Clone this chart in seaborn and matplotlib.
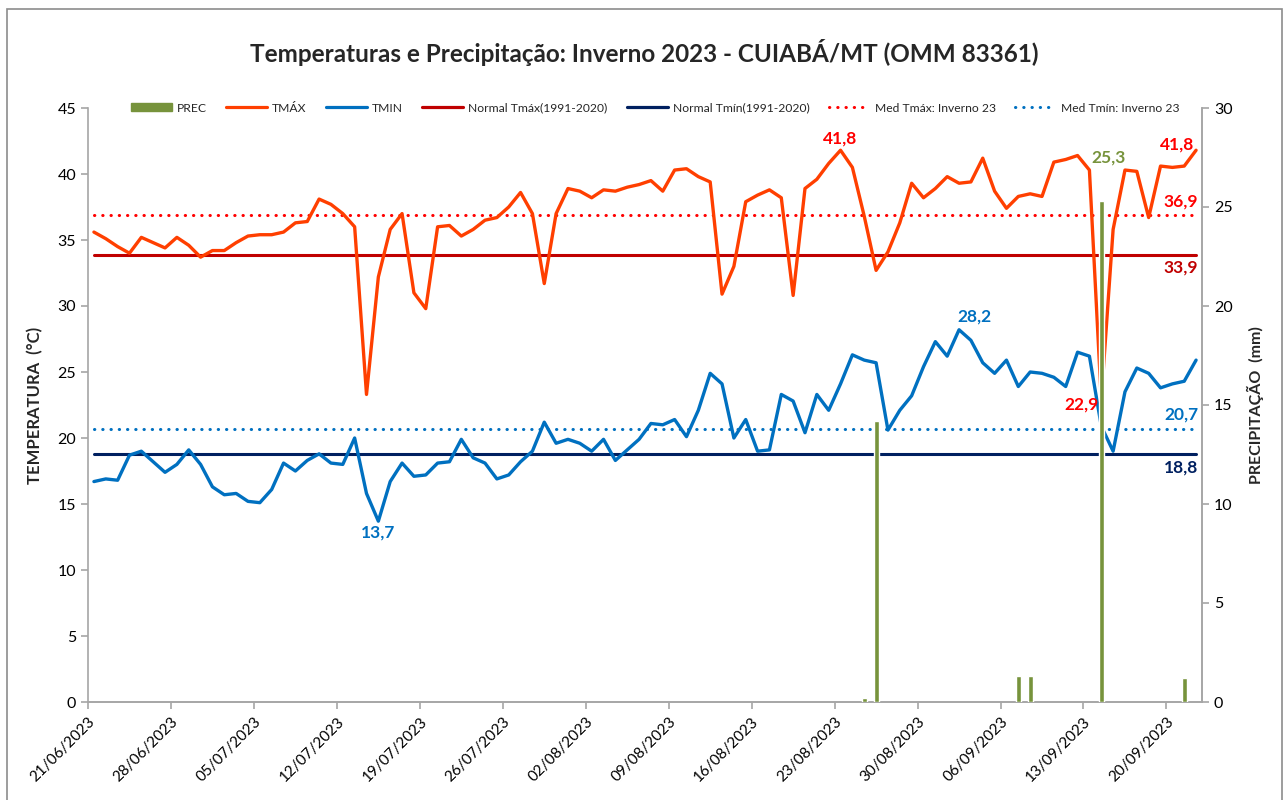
import numpy as np
import pandas as pd
import matplotlib
matplotlib.use("Agg")
import matplotlib.pyplot as plt
from matplotlib.lines import Line2D
from matplotlib.patches import Patch, Rectangle
from matplotlib.transforms import ScaledTranslation
import seaborn as sns

# daily data, winter 2023 (21/06 - 22/09)
dates = pd.date_range("2023-06-21", "2023-09-22", freq="D")

tmax = [35.6, 35.1, 34.5, 34.0, 35.2, 34.8, 34.4, 35.2, 34.6, 33.7,
        34.2, 34.2, 34.8, 35.3, 35.4, 35.4, 35.6, 36.3, 36.4, 38.1,
        37.7, 37.0, 36.0, 23.3, 32.2, 35.8, 37.0, 31.0, 29.8, 36.0,
        36.1, 35.3, 35.8, 36.5, 36.7, 37.5, 38.6, 37.0, 31.7, 37.0,
        38.9, 38.7, 38.2, 38.8, 38.7, 39.0, 39.2, 39.5, 38.7, 40.3,
        40.4, 39.8, 39.4, 30.9, 33.0, 37.9, 38.4, 38.8, 38.2, 30.8,
        38.9, 39.6, 40.8, 41.8, 40.5, 36.8, 32.7, 34.1, 36.3, 39.3,
        38.2, 38.9, 39.8, 39.3, 39.4, 41.2, 38.7, 37.4, 38.3, 38.5,
        38.3, 40.9, 41.1, 41.4, 40.3, 22.9, 35.8, 40.3, 40.2, 36.7,
        40.6, 40.5, 40.6, 41.8]

tmin = [16.7, 16.9, 16.8, 18.7, 19.0, 18.2, 17.4, 18.0, 19.1, 18.0,
        16.3, 15.7, 15.8, 15.2, 15.1, 16.1, 18.1, 17.5, 18.3, 18.8,
        18.1, 18.0, 20.0, 15.8, 13.7, 16.7, 18.1, 17.1, 17.2, 18.1,
        18.2, 19.9, 18.5, 18.1, 16.9, 17.2, 18.2, 19.0, 21.2, 19.6,
        19.9, 19.6, 19.0, 19.9, 18.3, 19.1, 19.9, 21.1, 21.0, 21.4,
        20.1, 22.1, 24.9, 24.1, 20.0, 21.4, 19.0, 19.1, 23.3, 22.8,
        20.4, 23.3, 22.1, 24.1, 26.3, 25.9, 25.7, 20.6, 22.1, 23.2,
        25.4, 27.3, 26.2, 28.2, 27.4, 25.7, 24.9, 25.9, 23.9, 25.0,
        24.9, 24.6, 23.9, 26.5, 26.2, 20.9, 19.0, 23.5, 25.3, 24.9,
        23.8, 24.1, 24.3, 25.9]

prec_dates = ["2023-08-25", "2023-08-26", "2023-09-07", "2023-09-08",
              "2023-09-14", "2023-09-21"]
prec_mm = [0.2, 14.2, 1.3, 1.3, 25.3, 1.2]

normal_tmax = 33.9
normal_tmin = 18.8
med_tmax = 36.9
med_tmin = 20.7

C_TMAX = "#FF3F00"
C_TMIN = "#0070C0"
C_NTMAX = "#C00000"
C_NTMIN = "#002060"
C_MTMAX = "#FF0000"
C_PREC = "#77933C"
GRAY = "#A6A6A6"

df = pd.DataFrame({"data": dates, "tmax": tmax, "tmin": tmin})
df["dia"] = (df["data"] - dates[0]).dt.days
prec = pd.DataFrame({"data": pd.to_datetime(prec_dates), "mm": prec_mm})
prec["dia"] = (prec["data"] - dates[0]).dt.days

sns.set_style("white")
plt.rcParams["font.family"] = ["Lato", "DejaVu Sans"]

fig = plt.figure(figsize=(12.88, 8), dpi=100)
ax = fig.add_axes([88 / 1288, 98 / 800, 1114 / 1288, 594 / 800])
ax2 = ax.twinx()

first, last = df["dia"].iloc[0], df["dia"].iloc[-1]
dots = (0, (0.1, 2.6))

# reference lines
ax.plot([first, last], [normal_tmax, normal_tmax], color=C_NTMAX, lw=2.2)
ax.plot([first, last], [normal_tmin, normal_tmin], color=C_NTMIN, lw=2.2)
ax.plot([first, last], [med_tmax, med_tmax], color=C_MTMAX, lw=2.2,
        linestyle=dots, dash_capstyle="round")
ax.plot([first, last], [med_tmin, med_tmin], color=C_TMIN, lw=2.2,
        linestyle=dots, dash_capstyle="round")

sns.lineplot(data=df, x="dia", y="tmax", ax=ax, color=C_TMAX, lw=2.4)
sns.lineplot(data=df, x="dia", y="tmin", ax=ax, color=C_TMIN, lw=2.4)

ax2.bar(prec["dia"], prec["mm"], width=0.42, color=C_PREC, zorder=3)

ax.set_xlim(-0.5, 93.5)
ax.set_ylim(0, 45)
ax2.set_ylim(0, 30)
ax.set_yticks(np.arange(0, 46, 5))
ax2.set_yticks(np.arange(0, 31, 5))

tick_pos = np.arange(0, len(dates), 7) - 0.5
tick_lab = [d.strftime("%d/%m/%Y") for d in dates[::7]]
ax.set_xticks(tick_pos)
ax.set_xticklabels(tick_lab, rotation=45, ha="right", rotation_mode="anchor")
shift = ScaledTranslation(0.05, -0.04, fig.dpi_scale_trans)
for t in ax.get_xticklabels():
    t.set_transform(t.get_transform() + shift)

for a in (ax, ax2):
    a.spines["top"].set_visible(False)
    for s in ("left", "right", "bottom"):
        a.spines[s].set_color(GRAY)
        a.spines[s].set_linewidth(1.2)
    a.tick_params(colors=GRAY, labelcolor="black", labelsize=11.5, length=5,
                  width=1.2, direction="out")
ax.tick_params(left=True, bottom=True)
ax.tick_params(axis="x", labelsize=11, pad=4)
ax2.tick_params(right=True)
ax2.spines["left"].set_visible(False)

ax.set_xlabel("")
ax.set_ylabel("TEMPERATURA  (°C)", fontsize=12, fontweight="bold", labelpad=10)
ax2.set_ylabel("PRECIPITAÇÃO  (mm)", fontsize=11.5, fontweight="bold", labelpad=10)

fig.text(0.5, 1 - 52 / 800, "Temperaturas e Precipitação: Inverno 2023 - CUIABÁ/MT (OMM 83361)",
         ha="center", va="center", fontsize=17.5, fontweight="bold")

# data labels
lab = dict(textcoords="offset pixels", ha="center", va="center",
           fontsize=12.5, fontweight="bold")
i_max = int(np.argmax(tmax[:-1]))
ax.annotate(f"{tmax[i_max]:.1f}".replace(".", ","), (i_max, tmax[i_max]),
            xytext=(0, 12), color=C_MTMAX, **lab)
ax.annotate(f"{tmax[-1]:.1f}".replace(".", ","), (last, tmax[-1]),
            xytext=(-19, 6), color=C_MTMAX, **lab)
i_lo = int(np.argmin(tmax))
ax.annotate(f"{tmax[i_lo]:.1f}".replace(".", ","), (i_lo, tmax[i_lo]),
            xytext=(-20, -5), color=C_MTMAX, **lab)
i_tn = int(np.argmax(tmin))
ax.annotate(f"{tmin[i_tn]:.1f}".replace(".", ","), (i_tn, tmin[i_tn]),
            xytext=(15, 13), color=C_TMIN, **lab)
i_tl = int(np.argmin(tmin))
ax.annotate(f"{tmin[i_tl]:.1f}".replace(".", ","), (i_tl, tmin[i_tl]),
            xytext=(0, -11), color=C_TMIN, **lab)
j = int(np.argmax(prec_mm))
ax2.annotate(f"{prec_mm[j]:.1f}".replace(".", ","), (prec["dia"].iloc[j], prec_mm[j]),
             xytext=(7, 44), color=C_PREC, **lab)
for val, col, dy in [(med_tmax, C_MTMAX, 13), (normal_tmax, C_NTMAX, -13),
                     (med_tmin, C_TMIN, 14), (normal_tmin, C_NTMIN, -14)]:
    ax.annotate(f"{val:.1f}".replace(".", ","), (last, val), xytext=(-15, dy),
                color=col, **lab)

handles = [
    Patch(color=C_PREC, label="PREC"),
    Line2D([], [], color=C_TMAX, lw=2.3, label="TMÁX"),
    Line2D([], [], color=C_TMIN, lw=2.3, label="TMIN"),
    Line2D([], [], color=C_NTMAX, lw=2.3, label="Normal Tmáx(1991-2020)"),
    Line2D([], [], color=C_NTMIN, lw=2.3, label="Normal Tmín(1991-2020)"),
    Line2D([], [], color=C_MTMAX, lw=2.2, linestyle=dots, dash_capstyle="round",
           label="Med Tmáx: Inverno 23"),
    Line2D([], [], color=C_TMIN, lw=2.2, linestyle=dots, dash_capstyle="round",
           label="Med Tmín: Inverno 23"),
]
ax2.legend(handles=handles, ncol=7, loc="center", bbox_to_anchor=(0.509, 1.0),
           frameon=False, fontsize=8.7, handlelength=3.4, handleheight=0.6,
           columnspacing=1.6, handletextpad=0.4)

fig.patches.append(Rectangle((6.5 / 1288, -0.01), 1275.5 / 1288, 1.01 - 8.5 / 800,
                             transform=fig.transFigure, fill=False,
                             edgecolor="#8C8C8C", lw=1.2))

fig.savefig("out.png", dpi=100)
